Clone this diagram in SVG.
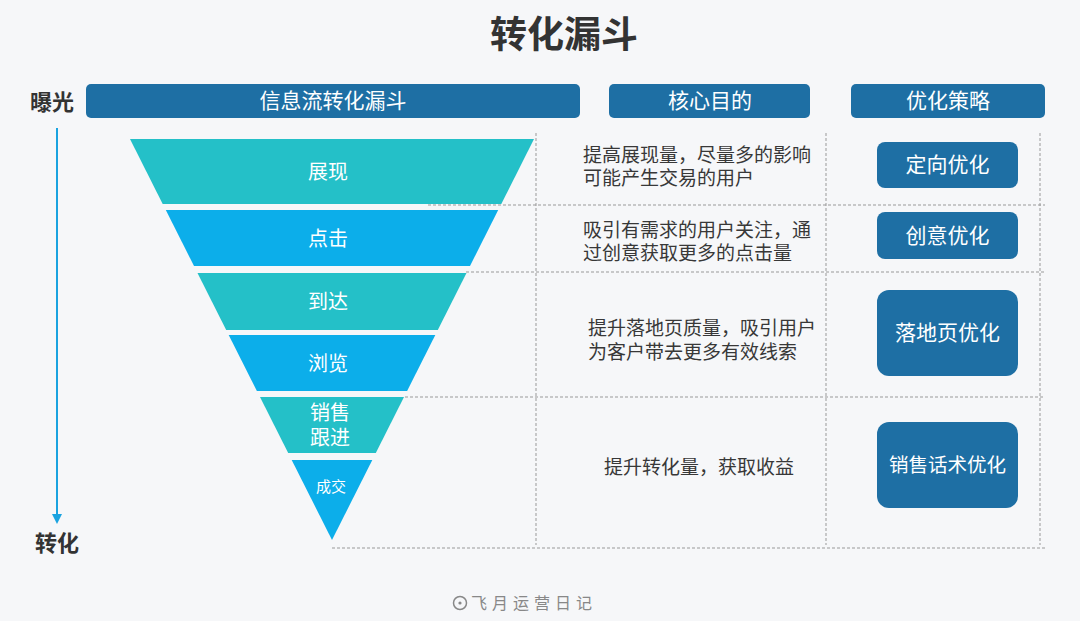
<svg xmlns="http://www.w3.org/2000/svg" width="1080" height="621" viewBox="0 0 1080 621">
<defs>
<style>
text{font-family:"Noto Sans CJK SC","Microsoft YaHei",sans-serif;}
.hdr{fill:#1e6fa4;}
.hdrt{fill:#fff;font-size:21px;text-anchor:middle;}
.side{fill:#333;font-size:22px;font-weight:bold;}
.teal{fill:#24c0c8;}
.blue{fill:#0caeea;}
.fl{fill:#fff;font-size:20px;text-anchor:middle;}
.desc{fill:#383838;font-size:19px;}
.btn{fill:#1e6fa4;}
.btnt{fill:#fff;font-size:21px;text-anchor:middle;}
.dash{stroke:#999;stroke-width:1;stroke-dasharray:3 2;fill:none;}
</style>
<marker id="arr" markerWidth="10" markerHeight="10" refX="5" refY="5" orient="auto" markerUnits="userSpaceOnUse">
<path d="M0,0 L10,5 L0,10 Z" fill="#1aa3e0"/>
</marker>
</defs>
<rect width="1080" height="621" fill="#f6f7f9"/>
<text x="564" y="48" text-anchor="middle" style="font-size:37px;font-weight:bold;fill:#333">转化漏斗</text>

<g id="headers">
<rect class="hdr" x="86" y="84" width="494" height="34" rx="5"/>
<text class="hdrt" x="333" y="108">信息流转化漏斗</text>
<rect class="hdr" x="609" y="84" width="201" height="34" rx="5"/>
<text class="hdrt" x="710" y="108">核心目的</text>
<rect class="hdr" x="851" y="84" width="194" height="34" rx="5"/>
<text class="hdrt" x="948" y="108">优化策略</text>
</g>

<g id="axis">
<text class="side" x="30" y="110">曝光</text>
<text class="side" x="35" y="551">转化</text>
</g>

<g id="connectors">
<line x1="57" y1="128" x2="57" y2="519" stroke="#1aa3e0" stroke-width="2" marker-end="url(#arr)"/>
<line class="dash" x1="428" y1="205" x2="1045" y2="205"/>
<line class="dash" x1="466" y1="272" x2="1045" y2="272"/>
<line class="dash" x1="405" y1="397" x2="1045" y2="397"/>
<line class="dash" x1="332" y1="548" x2="1045" y2="548"/>
<line class="dash" x1="536" y1="133" x2="536" y2="545"/>
<line class="dash" x1="826" y1="133" x2="826" y2="545"/>
<line class="dash" x1="1040" y1="133" x2="1040" y2="545"/>
</g>

<g id="seg1">
<polygon class="teal" points="130,139 534,139 501.3,204 162.7,204"/>
<text class="fl" x="328" y="179">展现</text>
</g>
<g id="seg2">
<polygon class="blue" points="165.8,210 498.2,210 470,266 194,266"/>
<text class="fl" x="328" y="246">点击</text>
</g>
<g id="seg3">
<polygon class="teal" points="197.5,273 466.5,273 437.8,330 226.2,330"/>
<text class="fl" x="328" y="309">到达</text>
</g>
<g id="seg4">
<polygon class="blue" points="228.7,335 435.3,335 407.1,391 256.9,391"/>
<text class="fl" x="328" y="371">浏览</text>
</g>
<g id="seg5">
<polygon class="teal" points="260,397 404,397 375.8,453 288.2,453"/>
<text class="fl" x="330" y="420">销售</text>
<text class="fl" x="330" y="445">跟进</text>
</g>
<g id="seg6">
<polygon class="blue" points="291.7,460 372.3,460 332,540"/>
<text class="fl" x="331" y="492" style="font-size:15px">成交</text>
</g>

<g id="desc1">
<text class="desc" x="583" y="162">提高展现量，尽量多的影响</text>
<text class="desc" x="583" y="185">可能产生交易的用户</text>
</g>
<g id="desc2">
<text class="desc" x="583" y="237">吸引有需求的用户关注，通</text>
<text class="desc" x="583" y="260">过创意获取更多的点击量</text>
</g>
<g id="desc3">
<text class="desc" x="588" y="335">提升落地页质量，吸引用户</text>
<text class="desc" x="588" y="359">为客户带去更多有效线索</text>
</g>
<g id="desc4">
<text class="desc" x="604" y="474">提升转化量，获取收益</text>
</g>

<g id="btn1">
<rect class="btn" x="877" y="142" width="141" height="46" rx="8"/>
<text class="btnt" x="947.5" y="172">定向优化</text>
</g>
<g id="btn2">
<rect class="btn" x="877" y="212" width="141" height="47" rx="8"/>
<text class="btnt" x="947.5" y="243">创意优化</text>
</g>
<g id="btn3">
<rect class="btn" x="877" y="290" width="141" height="86" rx="12"/>
<text class="btnt" x="947.5" y="340">落地页优化</text>
</g>
<g id="btn4">
<rect class="btn" x="877" y="422" width="141" height="86" rx="12"/>
<text class="btnt" x="947.5" y="472" style="font-size:19.5px">销售话术优化</text>
</g>

<g id="footer">
<circle cx="460" cy="603" r="6.5" fill="none" stroke="#888" stroke-width="1.5"/>
<circle cx="460" cy="603" r="1.6" fill="#888"/>
<text x="471" y="609" style="font-size:16px;fill:#888;letter-spacing:5px">飞月运营日记</text>
</g>
</svg>
